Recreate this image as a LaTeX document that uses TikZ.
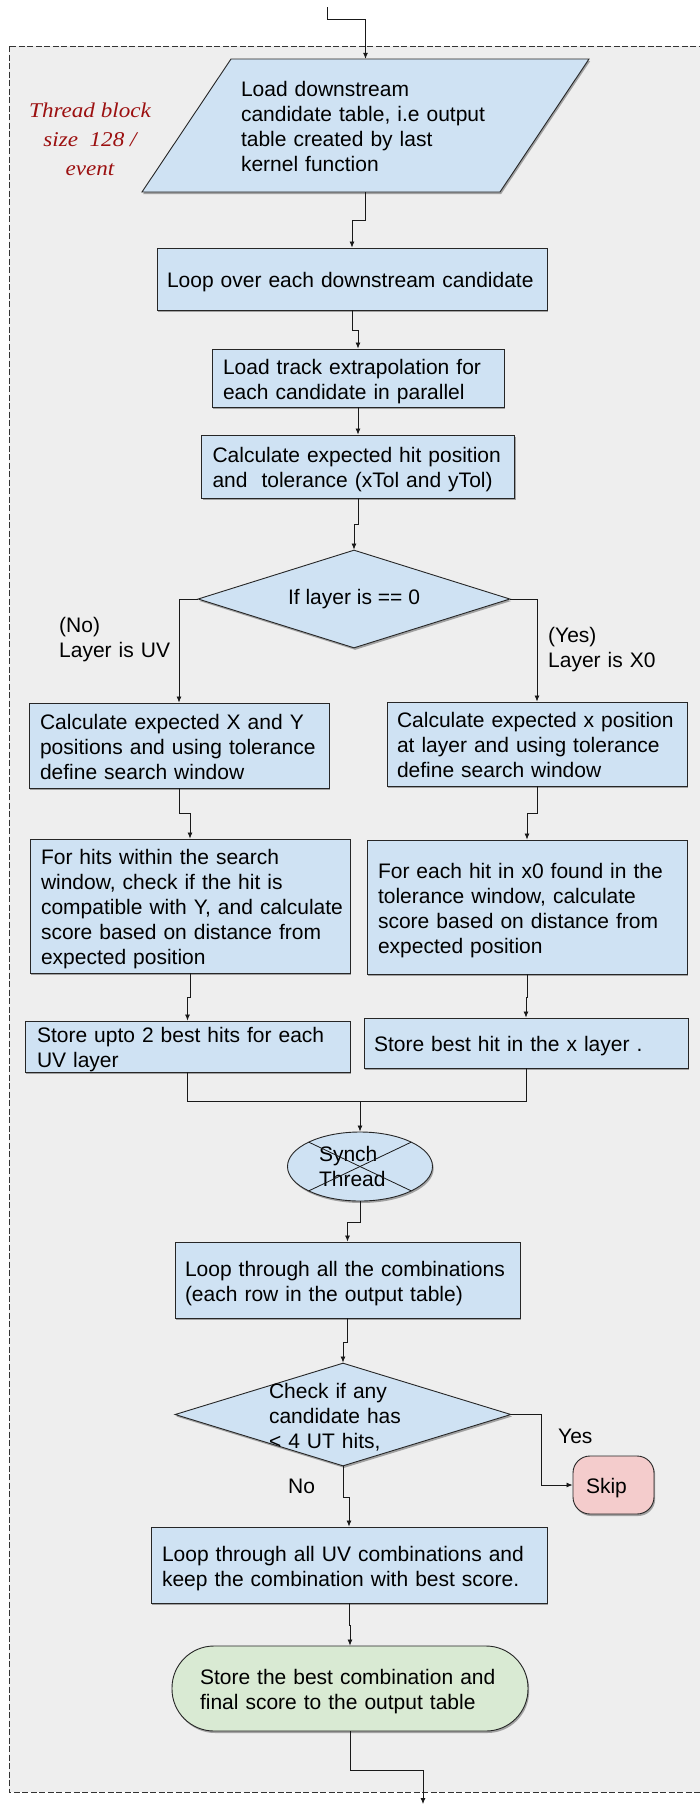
\documentclass[tikz,border=0pt]{standalone}
\usepackage{fontspec}
\setmainfont{Liberation Sans}
\newfontfamily\threadfont{Liberation Serif}[FakeStretch=1.1]
\usetikzlibrary{arrows.meta,shapes.geometric,shadows,calc}
\definecolor{stepblue}{HTML}{CFE2F3}
\definecolor{endgreen}{HTML}{D9EAD3}
\definecolor{skippink}{HTML}{F4CCCC}
\definecolor{panelgray}{HTML}{EEEEEE}
\definecolor{threadred}{HTML}{9C1010}
% multi-line node text: one left-aligned column; the kern below it sets the vertical balance
\newcommand\tlines[1]{\begin{tabular}[t]{@{}l@{}}#1\end{tabular}\endgraf\kern\txtkern}
\tikzset{textkern/.store in=\txtkern, textkern=-7pt}
\begin{document}
\begin{tikzpicture}[x=1pt,y=-1pt,
  font=\fontsize{21}{25}\selectfont,
  shapeline/.style={draw=black!85, line width=0.9pt,
    drop shadow={shadow xshift=1.2pt, shadow yshift=-2pt, opacity=0.32, fill=black}},
  stepbox/.style={rectangle, shapeline, fill=stepblue, inner sep=0pt},
  decision/.style={diamond, shapeline, fill=stepblue, inner sep=0pt},
  arr/.style={draw=black!90, line width=0.8pt, -{Latex[length=6pt,width=5pt]}},
  link/.style={draw=black!90, line width=0.8pt},
  lbl/.style={inner sep=0pt, anchor=base west},
]
% page and dashed kernel panel
\path[fill=white] (0,0) rectangle (700,1805);
\useasboundingbox (0,0) rectangle (700,1805);
\path[fill=panelgray, draw=black!80, line width=0.9pt, dash pattern=on 6pt off 2.5pt]
  (9,46) rectangle (706,1792);

% thread block note
\node[font=\threadfont\itshape\fontsize{21}{29}\selectfont, text=threadred,
      inner sep=0pt, anchor=base] (threadlbl) at (90,117)
  {\begin{tabular}[t]{@{}c@{}}Thread block\\size\ \ 128 /\\event\end{tabular}};

% input parallelogram
\path[shapeline, fill=stepblue] (231,59) -- (589,59) -- (500,192) -- (142,192) -- cycle;
\node[inner sep=0pt, minimum width=358, minimum height=133, text width=249]
  (load) at (365.5,125.5)
  {\tlines{Load downstream\\candidate table, i.e output\\table created by last\\kernel function}};

% main column
\node[stepbox, minimum width=390, minimum height=62, text width=370] (b1) at (352,279)
  {\tlines{Loop over each downstream candidate}};
\node[stepbox, minimum width=292, minimum height=58, text width=270] (b2) at (358,378)
  {\tlines{Load track extrapolation for\\each candidate in parallel}};
\node[stepbox, minimum width=313, minimum height=63, text width=291] (b3) at (358,466.5)
  {\tlines{Calculate expected hit position\\and\ \ tolerance (xTol and yTol)}};
\node[decision, shape aspect=3.2, minimum width=312, minimum height=98] (d1) at (354,599)
  {If layer is == 0};

% UV branch
\node[stepbox, minimum width=300, minimum height=85, text width=278] (l1) at (179,745.5)
  {\tlines{Calculate expected X and Y\\positions and using tolerance\\define search window}};
\node[stepbox, minimum width=320, minimum height=134, text width=298] (l2) at (190,906)
  {\tlines{For hits within the search\\window, check if the hit is\\compatible with Y, and calculate\\score based on distance from\\expected position}};
\node[stepbox, minimum width=325, minimum height=51, text width=301]
  (l3) at (187.5,1046.5) {\tlines{Store upto 2 best hits for each\\UV layer}};

% X0 branch
\node[stepbox, minimum width=300, minimum height=84, text width=280] (r1) at (537,744)
  {\tlines{Calculate expected x position\\at layer and using tolerance\\define search window}};
\node[stepbox, minimum width=320, minimum height=134, text width=298] (r2) at (527,907)
  {\tlines{For each hit in x0 found in the\\tolerance window, calculate\\score based on distance from\\expected position}};
\node[stepbox, minimum width=324, minimum height=50, text width=304] (r3) at (526,1043)
  {\tlines{Store best hit in the x layer .}};

% branch labels
\node[lbl, text width=120] (nolbl) at (59,632) {\tlines{(No)\\Layer is UV}};
\node[lbl, text width=120] (yeslbl) at (548,642) {\tlines{(Yes)\\Layer is X0}};

% thread synchronisation
\coordinate (merge) at (360,1101);
\node[ellipse, shapeline, fill=stepblue, inner sep=0pt, minimum width=145, minimum height=69,
      text width=82, textkern=-4pt] (sync) at (360,1166.5) {\tlines{Synch\\Thread}};
\draw[link] ($(sync.center)+(-51.3,-24.4)$) -- ($(sync.center)+(51.3,24.4)$);
\draw[link] ($(sync.center)+(51.3,-24.4)$) -- ($(sync.center)+(-51.3,24.4)$);

% combination stage
\node[stepbox, minimum width=345, minimum height=76, text width=325] (c1) at (347.5,1280)
  {\tlines{Loop through all the combinations\\(each row in the output table)}};
\node[decision, shape aspect=3.26, minimum width=336, minimum height=103, text width=148,
      inner xsep=-30pt, inner ysep=-20pt] (d2) at (343,1414.5)
  {\tlines{Check if any\\candidate has\\< 4 UT hits,}};
\node[rectangle, rounded corners=17pt, shapeline, fill=skippink, inner sep=0pt,
      minimum width=81, minimum height=58, text width=55]
  (skip) at (613.5,1485) {\tlines{Skip}};
\node[lbl] (yeslbl2) at (558,1443) {Yes};
\node[lbl] (nolbl2) at (288,1493) {No};
\node[stepbox, minimum width=396, minimum height=76, text width=374] (u1) at (349,1565)
  {\tlines{Loop through all UV combinations and\\keep the combination with best score.}};
\node[rectangle, rounded corners=42pt, shapeline, fill=endgreen, inner sep=0pt,
      minimum width=356, minimum height=85, text width=300] (final) at (350,1688.5)
  {\tlines{Store the best combination and\\final score to the output table}};

% connectors
\coordinate (entry) at (327,7);
\coordinate (exit) at (423,1804);
\draw[arr] (entry) -- ++(0,12) -| (load.north);
\draw[arr] (load.south) -- ++(0,28) -| (b1.north);
\draw[arr] (b1.south) -- ++(0,20) -| (b2.north);
\draw[arr] (b2.south) -- (b3.north);
\draw[arr] (b3.south) -- ++(0,26) -| (d1.north);
\draw[arr] (d1.west) -| (l1.north);
\draw[arr] (d1.east) -| (r1.north);
\draw[arr] (l1.south) -- ++(0,25) -| (l2.north);
\draw[arr] (r1.south) -- ++(0,27) -| (r2.north);
\draw[arr] (l2.south) -- ++(0,24) -| (l3.north);
\draw[arr] (r2.south) -- ++(0,23) -| (r3.north);
\draw[link] (l3.south) |- (merge);
\draw[link] (r3.south) |- (merge);
\draw[arr] (merge) -- (sync.north);
\draw[arr] (sync.south) -- ++(0,21) -| (c1.north);
\draw[arr] (c1.south) -- ++(0,24) -| (d2.north);
\draw[arr] (d2.east) -- ++(30,0) |- (skip.west);
\draw[arr] (d2.south) -- ++(0,31) -| (u1.north);
\draw[arr] (u1.south) -- ++(0,22) -| (final.north);
\draw[arr] (final.south) -- ++(0,39) -| (exit);
\end{tikzpicture}
\end{document}
